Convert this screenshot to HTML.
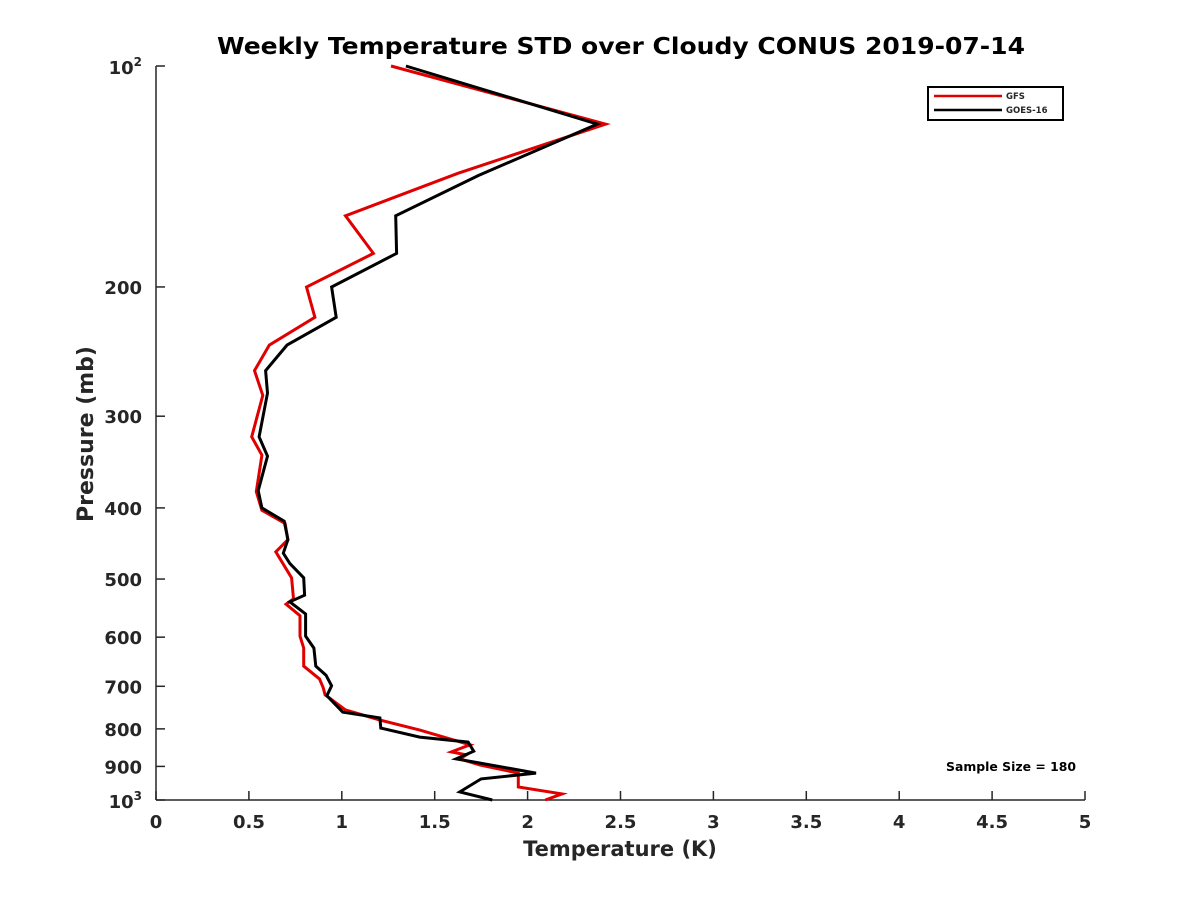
<!DOCTYPE html>
<html><head><meta charset="utf-8"><style>
body{margin:0;background:#fff;font-family:"DejaVu Sans",sans-serif;}
svg text{font-family:"DejaVu Sans","Liberation Sans",sans-serif;font-weight:bold;fill:#262626;}
</style></head><body>
<svg id="chart" width="1200" height="900" xmlns="http://www.w3.org/2000/svg">
<rect width="1200" height="900" fill="#fff"/>
<text x="621" y="54" text-anchor="middle" font-size="23" textLength="808" lengthAdjust="spacingAndGlyphs" style="fill:#000">Weekly Temperature STD over Cloudy CONUS 2019-07-14</text>
<g id="axes"></g>
<g id="series"></g>
<g>
<rect x="928" y="87" width="135" height="33" fill="#fff" stroke="#000" stroke-width="2"/>
<line x1="934" y1="96" x2="1002" y2="96" stroke="#e00000" stroke-width="2.5"/>
<text x="1006" y="99" font-size="8.5">GFS</text>
<line x1="934" y1="110" x2="1002" y2="110" stroke="#000" stroke-width="2.5"/>
<text x="1006" y="113" font-size="8.5">GOES-16</text>
</g>
<text x="946" y="771" font-size="12" textLength="130" lengthAdjust="spacingAndGlyphs" style="fill:#000">Sample Size = 180</text>
</svg>
<script>
const gfsTemp=[1.265,2.42,1.625,1.02,1.17,0.81,0.855,0.61,0.53,0.575,0.515,0.57,0.54,0.57,0.695,0.71,0.645,0.73,0.74,0.70,0.775,0.775,0.795,0.795,0.88,0.90,0.91,1.02,1.205,1.42,1.69,1.59,1.67,1.635,1.745,1.95,1.95,2.185,2.095];
const gfsPres=[100,120,140,160,180,200,220,240,260,281,320,339,380,403,420,442,459,498,532,541,561,598,621,657,684,703,719,754,778,803,841,860,868,879,896,919,960,981,1000];
const goesTemp=[1.345,2.375,1.735,1.29,1.295,0.945,0.97,0.705,0.59,0.60,0.555,0.60,0.55,0.57,0.69,0.71,0.685,0.72,0.795,0.80,0.72,0.805,0.805,0.85,0.86,0.915,0.945,0.92,1.005,1.205,1.21,1.42,1.68,1.71,1.615,1.715,2.045,1.75,1.635,1.81];
const goesPres=[100,120,141,160,180,200,220,240,260,279,320,340,379,400,417,442,461,476,498,526,537,558,598,621,657,676,699,721,759,773,798,821,834,858,879,888,919,936,975,1000];
const xTicks=[0,0.5,1,1.5,2,2.5,3,3.5,4,4.5,5];
const yTicks=[200,300,400,500,600,700,800,900];
const X0=156,X1=1085,Y0=66,Y1=800;
const sx=v=>X0+(v/5)*(X1-X0);
const sy=p=>Y0+(Math.log10(p)-2)*(Y1-Y0);
const NS="http://www.w3.org/2000/svg";
const ax=document.getElementById('axes');
function mk(t,a,p){const e=document.createElementNS(NS,t);for(const k in a)e.setAttribute(k,a[k]);p.appendChild(e);return e;}
let l=mk('line',{x1:X0,y1:Y0,x2:X0,y2:Y1,stroke:'#262626','stroke-width':1.5},ax);


l=mk('line',{x1:X0,y1:Y1,x2:X1,y2:Y1,stroke:'#262626','stroke-width':1.5},ax);


xTicks.forEach(v=>{
 const x=sx(v);
 mk('line',{x1:x,y1:Y1,x2:x,y2:Y1-9,stroke:'#262626','stroke-width':1.5},ax);
 const t=mk('text',{x:x,y:Y1+28,'text-anchor':'middle','font-size':18},ax);
 t.textContent=v;
 
 
});
yTicks.concat([100,1000]).forEach(p=>{
 const y=sy(p);
 mk('line',{x1:X0,y1:y,x2:X0+9,y2:y,stroke:'#262626','stroke-width':1.5},ax);
 if(p===100||p===1000)return;
 const t=mk('text',{x:X0-14,y:y+7,'text-anchor':'end','font-size':18},ax);
 t.textContent=p;
 
 
});
[[100,'2'],[1000,'3']].forEach(([p,e])=>{
 const y=sy(p);
 const t=mk('text',{x:X0-14,y:y+8,'text-anchor':'end','font-size':18},ax);
 t.innerHTML='10<tspan dy="-8" font-size="12">'+e+'</tspan>';
 
 
});
let t=mk('text',{x:620,y:856,'text-anchor':'middle','font-size':21},ax);
t.textContent='Temperature (K)';


t=mk('text',{x:93,y:434,'text-anchor':'middle','font-size':22,transform:'rotate(-90 93 434)'},ax);
t.textContent='Pressure (mb)';


const sg=document.getElementById('series');
function line(T,P,c,name){
 const pts=T.map((v,i)=>sx(v).toFixed(1)+','+sy(P[i]).toFixed(1)).join(' ');
 const e=mk('polyline',{points:pts,fill:'none',stroke:c,'stroke-width':3,'stroke-linejoin':'miter'},sg);
 
 
}
line(gfsTemp,gfsPres,'#e00000','gfs-line');
line(goesTemp,goesPres,'#000','goes16-line');
</script>
</body></html>
